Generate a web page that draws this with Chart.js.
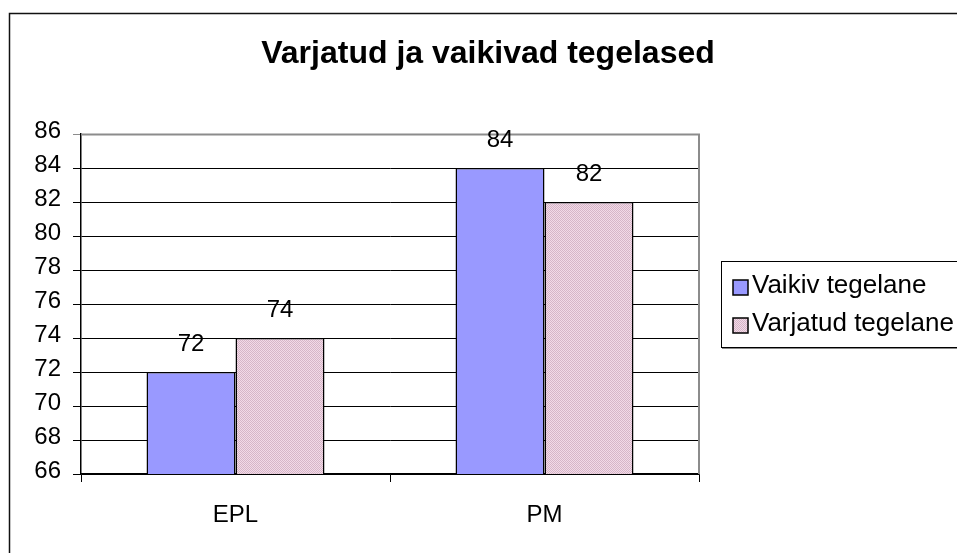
<!DOCTYPE html>
<html>
<head>
<meta charset="utf-8">
<style>
  html, body { margin: 0; padding: 0; background: #fff; }
  #wrap { width: 957px; height: 553px; }
</style>
<script src="https://cdn.jsdelivr.net/npm/chart.js@4/dist/chart.umd.min.js"></script>
</head>
<body>
<div id="wrap"><canvas id="c" width="957" height="553"></canvas></div>
<script>
const chartTitle = 'Varjatud ja vaikivad tegelased';
const categories = ['EPL', 'PM'];
const seriesNames = ['Vaikiv tegelane', 'Varjatud tegelane'];
const vaikiv = [72, 84];
const varjatud = [74, 82];
const yMin = 66, yMax = 86, yStep = 2;

const FONT = "'Liberation Sans', Arial, sans-serif";

// pink dotted pattern fill
function makePattern() {
  const p = document.createElement('canvas');
  p.width = 4; p.height = 4;
  const g = p.getContext('2d');
  g.fillStyle = '#F2DAE7';
  g.fillRect(0, 0, 4, 4);
  g.fillStyle = '#D6B6C8';
  for (let y = 0; y < 4; y++) for (let x = 0; x < 4; x++) if ((x + y) % 2 === 0) g.fillRect(x, y, 1, 1);
  return g.createPattern(p, 'repeat');
}
const blue = '#9999FF';
const pink = makePattern();

const frame = {
  id: 'frame',
  beforeDraw(chart) {
    const ctx = chart.ctx;
    ctx.save();
    ctx.fillStyle = '#fff';
    ctx.fillRect(0, 0, chart.width, chart.height);
    ctx.restore();
  },
  afterDatasetsDraw(chart) {
    const ctx = chart.ctx;
    const a = chart.chartArea;
    ctx.save();
    // plot area top/right border (gray)
    ctx.strokeStyle = '#8c8c8c';
    ctx.lineWidth = 2;
    ctx.beginPath();
    ctx.moveTo(a.left, a.top + 0.5);
    ctx.lineTo(a.right, a.top + 0.5);
    ctx.lineTo(a.right, a.bottom);
    ctx.stroke();
    // data labels
    ctx.fillStyle = '#000';
    ctx.font = '24px ' + FONT;
    ctx.textAlign = 'center';
    ctx.textBaseline = 'alphabetic';
    chart.data.datasets.forEach((ds, i) => {
      chart.getDatasetMeta(i).data.forEach((bar, j) => {
        ctx.fillText(String(ds.data[j]), bar.x, bar.y - 21);
      });
    });
    ctx.restore();
  },
  afterDraw(chart) {
    const ctx = chart.ctx;
    ctx.save();
    // outer chart border
    ctx.strokeStyle = '#111';
    ctx.lineWidth = 1.5;
    ctx.strokeRect(9.5, 13.5, 1200, 1200);
    // title
    ctx.fillStyle = '#000';
    ctx.font = 'bold 32px ' + FONT;
    ctx.textAlign = 'center';
    ctx.textBaseline = 'alphabetic';
    ctx.fillText(chartTitle, 488, 63);
    // legend
    ctx.strokeStyle = '#000';
    ctx.lineWidth = 1;
    ctx.strokeRect(721.5, 261.5, 400, 86);
    ctx.strokeStyle = '#888';
    ctx.beginPath();
    ctx.moveTo(722, 348.5); ctx.lineTo(957, 348.5);
    ctx.stroke();
    const fills = [blue, pink];
    const baselines = [293, 331];
    ctx.font = '26px ' + FONT;
    ctx.textAlign = 'left';
    seriesNames.forEach((name, i) => {
      ctx.fillStyle = fills[i];
      ctx.fillRect(733, baselines[i] - 13, 15, 15);
      ctx.strokeStyle = '#000';
      ctx.lineWidth = 1.5;
      ctx.strokeRect(733, baselines[i] - 13, 15, 15);
      ctx.fillStyle = '#000';
      ctx.fillText(name, 752, baselines[i]);
    });
    ctx.restore();
  }
};

new Chart(document.getElementById('c'), {
  type: 'bar',
  data: {
    labels: categories,
    datasets: [
      { label: seriesNames[0], data: vaikiv, backgroundColor: blue, borderColor: '#000', borderWidth: 1.5, borderSkipped: false },
      { label: seriesNames[1], data: varjatud, backgroundColor: pink, borderColor: '#000', borderWidth: 1.5, borderSkipped: false }
    ]
  },
  options: {
    responsive: false,
    animation: false,
    devicePixelRatio: 1,
    categoryPercentage: 0.576,
    barPercentage: 1,
    layout: { padding: { left: 0, top: 134, right: 258, bottom: 0 } },
    plugins: { legend: { display: false }, title: { display: false }, tooltip: { enabled: false } },
    scales: {
      x: {
        afterFit(scale) { scale.height = 79; },
        grid: { offset: true, drawOnChartArea: false, color: '#000', lineWidth: 1, tickLength: 8 },
        border: { display: true, color: '#000', width: 1.5 },
        ticks: { color: '#000', font: { family: FONT, size: 24 }, padding: 19, maxRotation: 0 }
      },
      y: {
        min: yMin, max: yMax,
        afterFit(scale) { scale.width = 81; },
        grid: { color: (c) => (c.tick && c.tick.value === yMax ? '#8c8c8c' : '#000'), lineWidth: 1, tickLength: 8 },
        border: { display: true, color: '#000', width: 1.5 },
        ticks: { stepSize: yStep, color: '#000', font: { family: FONT, size: 24 }, padding: 12, labelOffset: -3 }
      }
    }
  },
  plugins: [frame]
});
</script>
</body>
</html>
